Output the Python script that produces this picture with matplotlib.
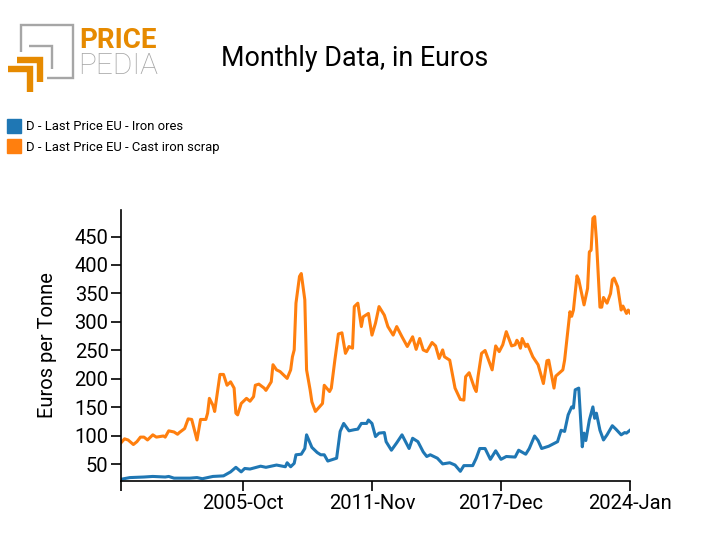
import matplotlib
matplotlib.use("Agg")
import matplotlib.pyplot as plt
from matplotlib.patches import Rectangle

plt.rcParams['font.family'] = ['Roboto', 'DejaVu Sans']

# months since 2000-Jan, values in euros per tonne
scrap_months = [0, 2, 4, 7, 9, 11, 13, 15, 18, 20, 24, 25, 27, 30, 32, 33, 36, 38, 40, 43, 45, 48, 49, 50, 52, 53,
                56, 58, 60, 62, 64, 65, 66, 68, 71, 73, 75, 76, 78, 81, 82, 85, 86, 88, 90, 93, 94, 96, 97, 98, 99,
                101, 102, 104, 105, 107, 108, 110, 114, 115, 118, 119, 121, 123, 125, 127, 129, 131, 132, 134, 136,
                137, 140, 142, 144, 146, 149, 151, 154, 156, 159, 162, 165, 167, 169, 171, 173, 176, 178, 180, 182,
                183, 186, 189, 192, 194, 195, 197, 200, 201, 202, 204, 206, 208, 210, 212, 214, 216, 218, 221, 223,
                224, 225, 226, 227, 229, 230, 233, 236, 239, 241, 242, 245, 246, 250, 251, 254, 255, 256, 258, 259,
                262, 264, 265, 266, 267, 268, 269, 271, 272, 273, 275, 277, 278, 279, 281, 283, 284, 286, 287, 288]
scrap_values = [88, 95, 93, 85, 90, 98, 98, 93, 102, 98, 100, 98, 109, 107, 103, 106, 113, 130, 129, 93, 129, 129, 140,
                166, 154, 143, 208, 208, 189, 195, 184, 140, 137, 157, 166, 161, 169, 189, 191, 184, 180, 195, 225,
                216, 213, 204, 201, 216, 239, 251, 333, 380, 385, 339, 216, 181, 160, 143, 157, 189, 178, 184, 233,
                279, 281, 245, 257, 254, 327, 333, 292, 309, 315, 277, 298, 327, 312, 292, 277, 292, 274, 257, 274,
                252, 271, 251, 248, 264, 258, 236, 251, 239, 233, 184, 164, 163, 204, 211, 184, 178, 204, 245, 250,
                233, 216, 258, 248, 260, 283, 258, 260, 268, 263, 254, 271, 257, 261, 239, 225, 192, 232, 233, 184,
                205, 216, 233, 318, 310, 321, 381, 374, 330, 359, 423, 426, 482, 485, 444, 326, 326, 343, 333, 350,
                374, 377, 362, 321, 328, 315, 321, 316]

ore_months = [0, 5, 13, 18, 25, 27, 30, 39, 43, 46, 52, 58, 62, 65, 68, 70, 73, 79, 82, 88, 93, 94, 96, 98, 99, 102,
              104, 105, 108, 111, 113, 115, 117, 119, 122, 124, 126, 129, 132, 134, 136, 139, 140, 142, 144, 146, 149,
              150, 153, 156, 159, 163, 165, 168, 171, 173, 175, 179, 182, 186, 189, 192, 194, 199, 201, 203, 206, 209,
              210, 212, 215, 218, 223, 225, 229, 231, 234, 236, 238, 242, 247, 249, 251, 253, 255, 256, 257, 259, 261,
              262, 263, 265, 267, 268, 269, 271, 273, 275, 278, 280, 283, 285, 286, 288]
ore_values = [24, 27, 28, 29, 28, 29, 26, 26, 27, 25, 29, 30, 37, 45, 37, 43, 42, 47, 45, 49, 46, 53, 46, 52, 67, 68,
              78, 102, 80, 71, 67, 67, 56, 58, 61, 108, 122, 109, 111, 112, 122, 122, 128, 122, 99, 105, 106, 90, 75,
              88, 102, 78, 96, 90, 72, 64, 67, 61, 51, 53, 49, 38, 48, 48, 61, 78, 78, 59, 64, 74, 59, 64, 63, 75, 68,
              78, 100, 92, 78, 82, 90, 110, 108, 137, 151, 149, 181, 184, 81, 105, 92, 128, 151, 131, 140, 110, 93,
              102, 118, 112, 102, 106, 105, 110]

tick_months = [0, 69, 142, 215, 288]
tick_labels = ['', '2005-Oct', '2011-Nov', '2017-Dec', '2024-Jan']
y_ticks = [50, 100, 150, 200, 250, 300, 350, 400, 450]

W, H = 712, 555
fig = plt.figure(figsize=(W / 100, H / 100), dpi=100)
ax = fig.add_axes([121 / W, 1 - 481 / H, 509 / W, 271 / H])

ax.plot(ore_months, ore_values, color='#1f77b4', lw=2.2)
ax.plot(scrap_months, scrap_values, color='#ff7f0e', lw=2.2)
ax.set_xlim(0, 288)
ax.set_ylim(21, 496.5)
ax.set_xticks(tick_months)
ax.set_xticklabels(tick_labels)
ax.set_yticks(y_ticks)
ax.tick_params(labelsize=14.5, length=7, width=1.2, color='black')
ax.tick_params(axis='x', pad=2.5)
ax.tick_params(axis='y', pad=2)
ax.set_ylabel('Euros per Tonne', fontsize=14.5, labelpad=12.5)
for side in ['top', 'right']:
    ax.spines[side].set_visible(False)
for side in ['left', 'bottom']:
    ax.spines[side].set_linewidth(1.2)

# header overlay in pixel coordinates: logo, title, legend
over = fig.add_axes([0, 0, 1, 1])
over.set_xlim(0, W)
over.set_ylim(H, 0)
over.axis('off')

grey = '#a6a6a6'
gold = '#e68a00'
over.plot([21, 21, 73, 73, 47], [52, 25, 25, 78, 78], color=grey, lw=1.7,
          solid_joinstyle='miter', solid_capstyle='butt')
over.plot([29, 52, 52], [46, 46, 69], color=grey, lw=1.7, solid_joinstyle='miter', solid_capstyle='butt')
over.plot([17, 40, 40], [59.5, 59.5, 82], color=gold, lw=4.6, solid_joinstyle='miter', solid_capstyle='butt')
over.plot([8, 30, 30], [69, 69, 91.5], color=gold, lw=4.6, solid_joinstyle='miter', solid_capstyle='butt')
over.text(79, 40.5, 'PRICE', color=gold, fontsize=20, fontweight='bold', va='center', ha='left')
over.text(78, 66, 'PEDIA', color=grey, fontsize=21.5, fontweight='light', va='center', ha='left')

over.text(355, 58, 'Monthly Data, in Euros', fontsize=19.4, ha='center', va='center', color='black')

over.add_patch(Rectangle((7, 119), 14, 14, color='#1f77b4'))
over.add_patch(Rectangle((7, 139), 14, 14, color='#ff7f0e'))
over.text(26, 127, 'D - Last Price EU - Iron ores', fontsize=9.4, va='center', ha='left')
over.text(26, 147, 'D - Last Price EU - Cast iron scrap', fontsize=9.4, va='center', ha='left')

fig.savefig('out.png', dpi=100)
